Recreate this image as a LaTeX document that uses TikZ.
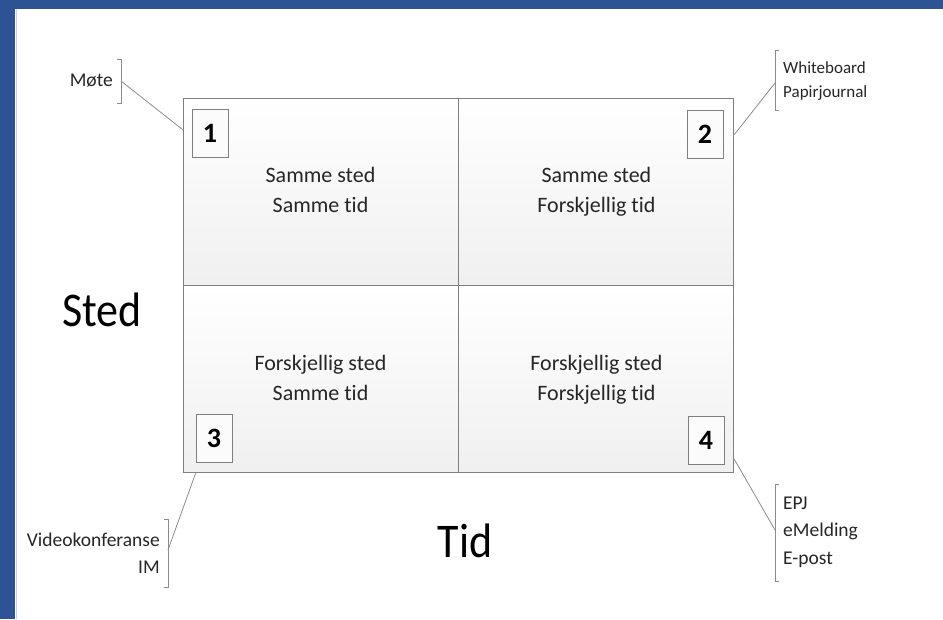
\documentclass[tikz,border=0pt]{standalone}
\usepackage{fontspec}
\setmainfont{Carlito}[Ligatures=CommonOff]
\usetikzlibrary{positioning,calc}
\definecolor{qBlue}{HTML}{2E5395}
\definecolor{qLine}{HTML}{7F7F7F}
\definecolor{qCall}{HTML}{8C8C8C}
\definecolor{qInk}{HTML}{262626}
\tikzset{
  cell/.style    ={draw=qLine,line width=0.9pt,top color=white,bottom color=gray!12,
                   minimum width=275pt,minimum height=187pt,inner sep=0pt,align=center,
                   text=qInk,font=\fontsize{22}{30}\selectfont,
                   execute at begin node={\rule{0pt}{22pt}},
                   execute at end node={\vphantom{g}}},
  numbox/.style  ={draw=qLine,line width=0.8pt,fill=gray!3,minimum width=36pt,
                   minimum height=48pt,inner sep=0pt,text=black,
                   font=\fontsize{28}{28}\selectfont\bfseries},
  bigl/.style    ={text=black,font=\fontsize{44}{44}\selectfont,inner sep=0pt,yscale=1.1},
  tool/.style    ={text=qInk,font=\fontsize{19.5}{27.5}\selectfont,inner sep=0pt},
  tools/.style   ={text=qInk,font=\fontsize{17}{24}\selectfont,inner sep=0pt},
  brk/.style     ={draw=qCall,line width=0.8pt},
  callout/.style ={qCall,line width=0.8pt},
}
\begin{document}
\begin{tikzpicture}[x=1pt,y=-1pt]
\useasboundingbox (0,0) rectangle (943,619);
% frame
\fill[qBlue] (0,0) rectangle (943,9);
\fill[qBlue] (0,0) rectangle (15,619);
\draw[gray!35,line width=1pt] (16,9) -- (16,619);

% the four cells
\node[cell] (c1) at (320.5,191.5) {Samme sted\\Samme tid};
\node[cell,right=0pt of c1] (c2) {Samme sted\\Forskjellig tid};
\node[cell,below=0pt of c1] (c3) {Forskjellig sted\\Samme tid};
\node[cell,right=0pt of c3] (c4) {Forskjellig sted\\Forskjellig tid};

\node[numbox,anchor=north west] (n1) at ($(c1.north west)+(9,11)$) {1};
\node[numbox,anchor=north east] (n2) at ($(c2.north east)+(-11,12)$) {2};
\node[numbox,anchor=south west] (n3) at ($(c3.south west)+(13,-11)$) {3};
\node[numbox,anchor=south east] (n4) at ($(c4.south east)+(-10,-9)$) {4};

% axis labels
\node[bigl] (sted) at (102,310) {Sted};
\node[bigl] (tid) at (465,541) {Tid};

% examples with brackets
\node[tool,anchor=east] (moete) at (113,81) {Møte};
\draw[brk] (117,59) -- (121,59) -- (121,103) -- (117,103);
\coordinate (b1) at (121,81);

\node[tools,anchor=west,align=left] (wb) at (783,81) {Whiteboard\\Papirjournal};
\draw[brk] (779,50) -- (775,50) -- (775,110) -- (779,110);
\coordinate (b2) at (775,83);

\node[tool,anchor=east,align=right] (video) at (160,553) {Videokonferanse\\IM};
\draw[brk] (164,519) -- (168,519) -- (168,587) -- (164,587);
\coordinate (b3) at (168,550);

\node[tool,anchor=west,align=left] (epj) at (783,532) {EPJ\\eMelding\\E-post};
\draw[brk] (779,484) -- (775,484) -- (775,581) -- (779,581);
\coordinate (b4) at (775,530);

\draw[callout] (b1) -- ($(c1.north west)+(0,32)$);
\draw[callout] (b2) -- ($(c2.north east)+(0,37)$);
\draw[callout] (b3) -- ($(c3.south west)+(13,0)$);
\draw[callout] (b4) -- ($(c4.south east)+(0,-14)$);
\end{tikzpicture}
\end{document}
